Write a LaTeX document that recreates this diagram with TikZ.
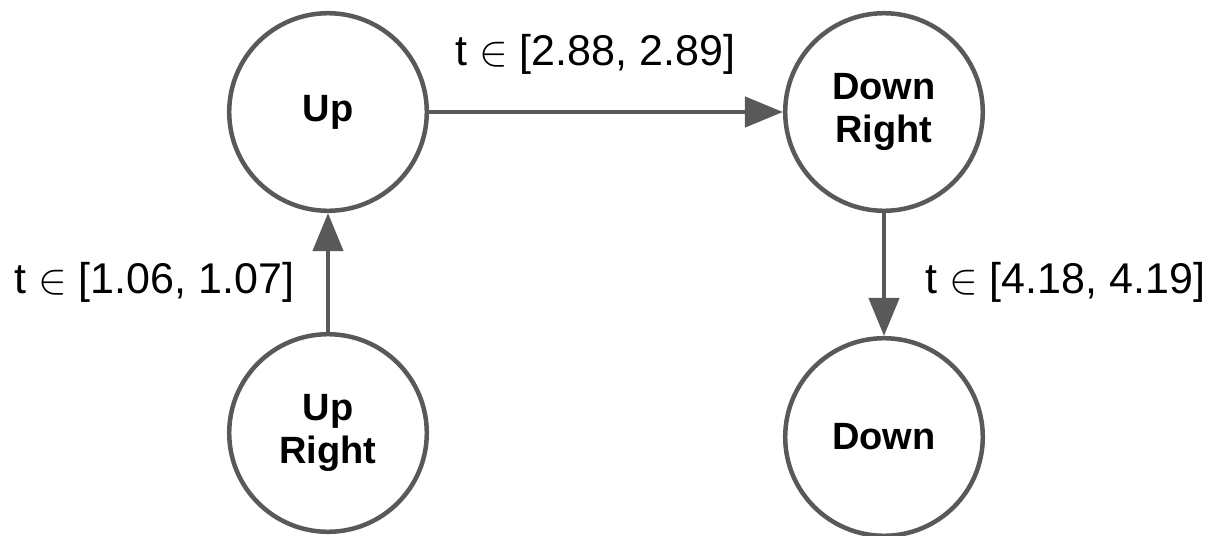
\documentclass[tikz,border=0pt]{standalone}
\usepackage{fontspec}
\setmainfont{Liberation Sans}
\usepackage{fix-cm}
\usepackage{tikz}
\usetikzlibrary{arrows.meta}
\definecolor{edgegray}{RGB}{89,89,89}

\begin{document}
\begin{tikzpicture}[x=0.5pt, y=-0.5pt]%%moves
                \tikzstyle{state}  = [circle, draw=edgegray, line width=2.25pt, minimum size=98.8pt, inner sep=0pt, align=center, font=\fontsize{19}{21.5}\selectfont\bfseries]
                \tikzstyle{trans}  = [draw=edgegray, line width=2.25pt, -{Triangle[length=19pt, width=15pt]}]
                \tikzstyle{tlabel} = [anchor=base west, inner sep=0pt, font=\fontsize{21.5}{24}\selectfont]
                \useasboundingbox (0,0) rectangle (1217,536);
                \node [state](up) at (328,112) {Up};
                \node [state](ur) at (328,433) {Up\\Right};
                \node [state](dr) at (884,112) {Down\\Right};
                \node [state](dn) at (884,437) {Down};
                \draw [trans] (up) -- (dr);
                \draw [trans] (ur) -- (up);
                \draw [trans] (dr) -- (dn);
                \node [tlabel](t1) at (455,65) {t $\in$ [2.88, 2.89]};
                \node [tlabel](t2) at (14,293) {t $\in$ [1.06, 1.07]};
                \node [tlabel](t3) at (925,293) {t $\in$ [4.18, 4.19]};
\end{tikzpicture}
\end{document}
